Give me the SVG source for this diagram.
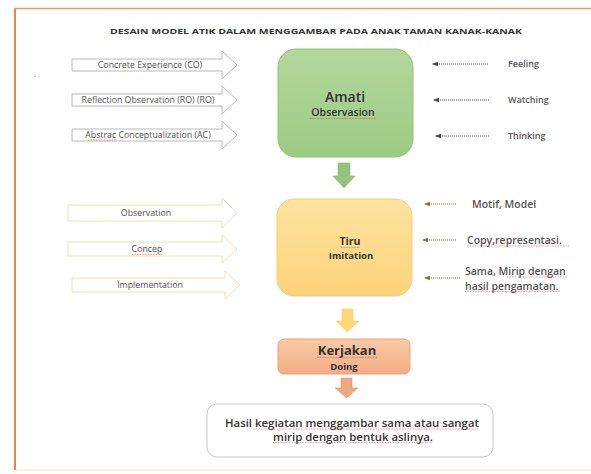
<svg xmlns="http://www.w3.org/2000/svg" width="591" height="474" viewBox="0 0 591 474">
<defs>
<linearGradient id="gGreen" x1="0" y1="0" x2="0" y2="1"><stop offset="0" stop-color="#b3d79c"/><stop offset="1" stop-color="#9dcb83"/></linearGradient>
<linearGradient id="gYellow" x1="0" y1="0" x2="0" y2="1"><stop offset="0" stop-color="#fde3a0"/><stop offset="1" stop-color="#fcd37a"/></linearGradient>
<linearGradient id="gSalmon" x1="0" y1="0" x2="0" y2="1"><stop offset="0" stop-color="#f9c9a6"/><stop offset="1" stop-color="#f3ad84"/></linearGradient>
<marker id="mDark" markerWidth="6" markerHeight="6" refX="1" refY="3" orient="auto" markerUnits="userSpaceOnUse"><path d="M6,0.8 L0,3 L6,5.2 Z" fill="#444"/></marker>
<marker id="mBrown" markerWidth="6" markerHeight="6" refX="1" refY="3" orient="auto" markerUnits="userSpaceOnUse"><path d="M6,0.8 L0,3 L6,5.2 Z" fill="#a0683a"/></marker>
<style>
.t{font-family:"Open Sans","Liberation Sans",sans-serif;fill:#333}
.sm{font-size:8.8px;text-anchor:middle;fill:#555}
.lab{font-size:9px;font-weight:600;fill:#555}
.lab2{font-size:10.5px;font-weight:600;fill:#555}
.arrG{fill:#fff;stroke:#b8b8b8;stroke-width:1}
.arrY{fill:#fff;stroke:#f0dfaf;stroke-width:1}
.dotD{stroke:#444;stroke-width:1;stroke-dasharray:1 1;fill:none;marker-start:url(#mDark)}
.dotB{stroke:#a0683a;stroke-width:1;stroke-dasharray:1 1;fill:none;marker-start:url(#mBrown)}
.wavy{stroke:#d9534f;stroke-width:0.6;fill:none;stroke-dasharray:1 0.6}
</style>
</defs>
<rect x="0" y="0" width="591" height="474" fill="#fff"/>
<g id="frame">
<line x1="15" y1="8" x2="15" y2="470" stroke="#e08a50" stroke-width="2"/>
<line x1="14" y1="8.5" x2="591" y2="8.5" stroke="#e89a62" stroke-width="1.5"/>
<line x1="16" y1="470" x2="591" y2="470" stroke="#fbf2dc" stroke-width="2"/>
</g>
<text class="t" x="316" y="34" font-size="7.6" font-weight="bold" text-anchor="middle" fill="#222" textLength="412" lengthAdjust="spacingAndGlyphs">DESAIN MODEL ATIK DALAM MENGGAMBAR PADA ANAK TAMAN KANAK-KANAK</text>
<text class="t" x="34" y="77" font-size="8">.</text>

<g id="in-concrete"><path class="arrG" d="M72,59 H222 V51 L237,65 L222,79 V71 H72 Z"/><text class="t sm" x="150" y="68">Concrete Experience (CO)</text></g>
<g id="in-reflection"><path class="arrG" d="M72,94 H222 V86 L237,100 L222,114 V106 H72 Z"/><text class="t sm" x="148" y="103">Reflection Observation (RO) (RO)</text></g>
<g id="in-abstract"><path class="arrG" d="M72,129 H222 V121 L237,135 L222,149 V141 H72 Z"/><text class="t sm" x="148" y="138">Abstrac Conceptualization (AC)</text><path class="wavy" d="M88,140 h28"/></g>

<g id="amati">
<rect x="278" y="49" width="135" height="108" rx="18" fill="url(#gGreen)" stroke="#92c276" stroke-width="1"/>
<text class="t" x="345" y="102" font-size="14" font-weight="600" text-anchor="middle" fill="#333">Amati</text>
<text class="t" x="343" y="116" font-size="10.5" font-weight="600" text-anchor="middle" fill="#55591f">Observasion</text>
<path class="wavy" d="M310,118.5 h66"/>
</g>

<g id="fb-feeling"><path class="dotD" d="M433,64 H488"/><text class="t lab" x="508" y="67">Feeling</text></g>
<g id="fb-watching"><path class="dotD" d="M434,100 H490"/><text class="t lab" x="508" y="103">Watching</text></g>
<g id="fb-thinking"><path class="dotD" d="M436,136 H490"/><text class="t lab" x="508" y="139">Thinking</text></g>

<g id="in-observation"><path class="arrY" d="M68,205 H222 V198 L237,213 L222,228 V221 H68 Z"/><text class="t sm" x="146" y="216">Observation</text></g>
<g id="in-concep"><path class="arrY" d="M68,242 H222 V235 L237,249 L222,263 V256 H68 Z"/><text class="t sm" x="147" y="252">Concep</text><path class="wavy" d="M132,254.5 h30"/></g>
<g id="in-implementation"><path class="arrY" d="M72,278 H225 V271 L240,285 L225,299 V292 H72 Z"/><text class="t sm" x="150" y="288">Implementation</text></g>

<g id="tiru">
<rect x="277" y="199" width="135" height="97" rx="17" fill="url(#gYellow)" stroke="#f5cf7c" stroke-width="1"/>
<text class="t" x="350" y="245" font-size="10.5" font-weight="bold" text-anchor="middle" fill="#55591f">Tiru</text>
<path class="wavy" d="M341,247.5 h19"/>
<text class="t" x="351" y="259" font-size="9.5" font-weight="bold" text-anchor="middle" fill="#555">Imitation</text>
</g>

<g id="fb-motif"><path class="dotB" d="M425,204 H457"/><text class="t lab2" x="472" y="208">Motif, Model</text></g>
<g id="fb-copy"><path class="dotB" d="M423,240 H457"/><text class="t lab2" x="467" y="244">Copy,representasi.</text><path class="wavy" d="M467,246 h102"/></g>
<g id="fb-sama"><path class="dotB" d="M425,278 H460"/><text class="t lab2" x="465" y="275">Sama, Mirip dengan</text><text class="t lab2" x="465" y="289.5">hasil pengamatan.</text><path class="wavy" d="M507,277 h60 M465,291.5 h95"/></g>

<g id="kerjakan">
<rect x="278" y="339" width="132" height="35" rx="6" fill="url(#gSalmon)" stroke="#eea37a" stroke-width="1"/>
<text class="t" x="347" y="355" font-size="13" font-weight="bold" text-anchor="middle" fill="#333">Kerjakan</text>
<path class="wavy" d="M317,357.5 h60"/>
<text class="t" x="344" y="370" font-size="9.5" font-weight="bold" text-anchor="middle" fill="#555">Doing</text>
</g>

<g id="hasil">
<rect x="207" y="404" width="286" height="53" rx="10" fill="#fff" stroke="#c6c6c6" stroke-width="1"/>
<text class="t" x="352" y="427" font-size="10" font-weight="600" text-anchor="middle" fill="#333" textLength="254" lengthAdjust="spacingAndGlyphs">Hasil kegiatan menggambar sama atau sangat</text>
<text class="t" x="353" y="440.5" font-size="10" font-weight="600" text-anchor="middle" fill="#333" textLength="160" lengthAdjust="spacingAndGlyphs">mirip dengan bentuk aslinya.</text>
<path class="wavy" d="M253,429 h226 M273,442.5 h160"/>
</g>

<g id="connectors">
<path d="M338,163 H350 V176 H355 L344,188 L333,176 H338 Z" fill="#93c47d" stroke="#86b96d" stroke-width="0.6"/>
<path d="M342,309 H353 V321 H359 L347.5,332 L336,321 H342 Z" fill="#fed97a" stroke="#f7cd6a" stroke-width="0.6"/>
<path d="M341,378 H352 V388 H358 L346.5,398 L335,388 H341 Z" fill="#f0a97f" stroke="#e99b6f" stroke-width="0.6"/>
</g>
</svg>
